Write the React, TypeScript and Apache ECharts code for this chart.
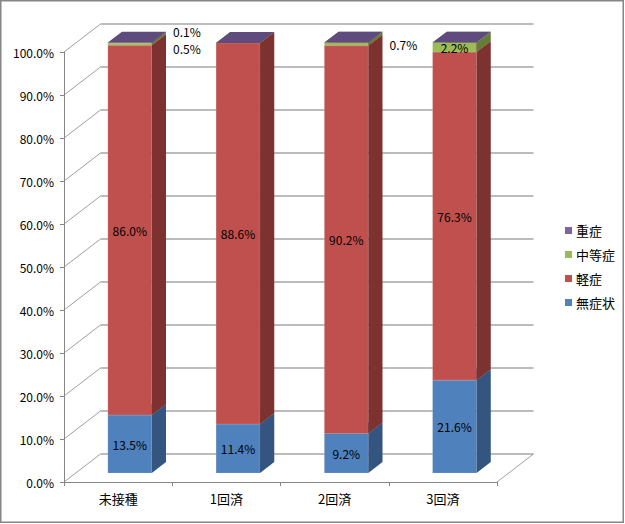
import React, { useEffect, useRef } from "react";
import * as echarts from "echarts";

const categories = ["未接種", "1回済", "2回済", "3回済"];
const seriesNames = ["無症状", "軽症", "中等症", "重症"];
const asymptomatic = [13.5, 11.4, 9.2, 21.6];
const mild = [86.0, 88.6, 90.2, 76.3];
const moderate = [0.5, 0.0, 0.7, 2.2];
const severe = [0.1, 0.0, 0.0, 0.0];
const tickValues = [0, 10, 20, 30, 40, 50, 60, 70, 80, 90, 100];

const seriesValues = [asymptomatic, mild, moderate, severe];
const frontColors = ["#4F81BD", "#C0504D", "#9BBB59", "#8064A2"];
const sideColors = ["#34557F", "#7E3230", "#667D3A", "#56436E"];
const topColors = ["#44709F", "#A64541", "#88A54D", "#604B7E"];

const FONT = '"Noto Sans CJK JP", "Noto Sans", sans-serif';
const GRID = { left: 64, top: 52, width: 433, height: 430 };
const DX = 36.5;
const DY = -28;
const F1 = 0.32;
const F2 = 0.71;
const BAR_RATIO = 0.406;

export default function App() {
  const ref = useRef<HTMLDivElement>(null);

  useEffect(() => {
    if (!ref.current) return;
    const chart = echarts.init(ref.current, undefined, { renderer: "svg" });

    const makeSeries = (si: number) => {
      const data = categories.map((_, ci) => {
        let start = 0;
        for (let k = 0; k < si; k++) start += seriesValues[k][ci];
        const v = seriesValues[si][ci];
        return [ci, start, start + v, v];
      });
      return {
        type: "custom",
        name: seriesNames[si],
        xAxisIndex: 0,
        yAxisIndex: 0,
        itemStyle: { color: frontColors[si] },
        encode: { x: 0, y: [1, 2] },
        clip: false,
        silent: true,
        data,
        renderItem: (params: any, api: any) => {
          const ci = api.value(0);
          const s = api.value(1);
          const e = api.value(2);
          const v = api.value(3);
          const pS = api.coord([ci, s]);
          const pE = api.coord([ci, e]);
          const bw = api.size([1, 0])[0] * BAR_RATIO;
          const x0 = pS[0] - bw / 2 + DX * F1;
          const yb = pS[1] + DY * F1;
          const yt = pE[1] + DY * F1;
          const ddx = DX * (F2 - F1);
          const ddy = DY * (F2 - F1);
          const children: any[] = [];
          if (yb - yt > 0.05) {
            children.push({
              type: "rect",
              shape: { x: x0, y: yt, width: bw, height: yb - yt },
              style: { fill: frontColors[si], stroke: "rgba(255,255,255,0.25)", lineWidth: 0.6 },
            });
            children.push({
              type: "polygon",
              shape: {
                points: [
                  [x0 + bw, yb],
                  [x0 + bw, yt],
                  [x0 + bw + ddx, yt + ddy],
                  [x0 + bw + ddx, yb + ddy],
                ],
              },
              style: { fill: sideColors[si] },
            });
          }
          children.push({
            type: "polygon",
            shape: {
              points: [
                [x0, yt],
                [x0 + bw, yt],
                [x0 + bw + ddx, yt + ddy],
                [x0 + ddx, yt + ddy],
              ],
            },
            style: { fill: topColors[si] },
          });
          if (v > 0) {
            const label = v.toFixed(1) + "%";
            const cy = (yb + yt) / 2;
            if (v >= 1) {
              children.push({
                type: "text",
                z2: 100,
                style: {
                  text: label,
                  x: x0 + bw / 2,
                  y: cy,
                  align: "center",
                  verticalAlign: "middle",
                  fill: "#000",
                  font: `12px ${FONT}`,
                },
              });
            } else {
              // small values: label placed to the right of the bar
              let off = 0;
              const aboveSmall =
                si + 1 < seriesValues.length &&
                seriesValues[si + 1][ci] > 0 &&
                seriesValues[si + 1][ci] < 1;
              const belowSmall =
                si - 1 >= 0 && seriesValues[si - 1][ci] > 0 && seriesValues[si - 1][ci] < 1;
              if (aboveSmall) off = 4;
              if (belowSmall) off = -11;
              children.push({
                type: "text",
                z2: 100,
                style: {
                  text: label,
                  x: x0 + bw + ddx + 7,
                  y: cy + off,
                  align: "left",
                  verticalAlign: "middle",
                  fill: "#000",
                  font: `12px ${FONT}`,
                },
              });
            }
          }
          return { type: "group", children };
        },
      };
    };

    const wallSeries = {
      type: "custom",
      name: "wall",
      xAxisIndex: 0,
      yAxisIndex: 0,
      encode: { x: 0, y: 1 },
      clip: false,
      silent: true,
      data: tickValues.map((t) => [0, t]),
      renderItem: (params: any, api: any) => {
        const t = api.value(1);
        const p = api.coord([0, t]);
        const half = api.size([1, 0])[0] / 2;
        const xl = p[0] - half;
        const children: any[] = [
          {
            type: "line",
            shape: { x1: xl, y1: p[1], x2: xl + DX, y2: p[1] + DY },
            style: { stroke: "#A0A0A0", lineWidth: 1 },
          },
        ];
        if (t === 0) {
          const pr = api.coord([categories.length - 1, 0]);
          const xr = pr[0] + half;
          children.push({
            type: "line",
            shape: { x1: xr, y1: pr[1], x2: xr + DX, y2: pr[1] + DY },
            style: { stroke: "#A0A0A0", lineWidth: 1 },
          });
        }
        return { type: "group", children };
      },
    };

    const option: any = {
      animation: false,
      color: frontColors,
      textStyle: { fontFamily: FONT },
      grid: [
        { left: GRID.left, top: GRID.top, width: GRID.width, height: GRID.height },
        { left: GRID.left + DX, top: GRID.top + DY, width: GRID.width, height: GRID.height },
      ],
      xAxis: [
        {
          type: "category",
          gridIndex: 0,
          data: categories,
          boundaryGap: true,
          axisLine: { show: true, lineStyle: { color: "#868686", width: 1 } },
          axisTick: { show: true, length: 4, lineStyle: { color: "#868686" } },
          axisLabel: { color: "#000", fontSize: 13, margin: 10, fontFamily: FONT },
          splitLine: { show: false },
          z: 5,
        },
        {
          type: "category",
          gridIndex: 1,
          data: categories,
          show: false,
        },
      ],
      yAxis: [
        {
          type: "value",
          gridIndex: 0,
          min: 0,
          max: 100,
          interval: 10,
          axisLine: { show: true, lineStyle: { color: "#868686", width: 1 } },
          axisTick: { show: true, length: 4, lineStyle: { color: "#868686" } },
          axisLabel: {
            color: "#000",
            fontSize: 12,
            margin: 10,
            fontFamily: FONT,
            formatter: (v: number) => v.toFixed(1) + "%",
          },
          splitLine: { show: false },
          z: 5,
        },
        {
          type: "value",
          gridIndex: 1,
          min: 0,
          max: 100,
          interval: 10,
          axisLine: { show: false },
          axisTick: { show: false },
          axisLabel: { show: false },
          splitLine: { show: true, lineStyle: { color: "#A6A6A6", width: 1.5 } },
        },
      ],
      legend: {
        orient: "vertical",
        left: 560,
        top: 219,
        itemWidth: 7,
        itemHeight: 7,
        itemGap: 11,
        icon: "rect",
        data: ["重症", "中等症", "軽症", "無症状"],
        textStyle: { color: "#000", fontSize: 13, fontFamily: FONT, padding: [0, 0, 0, -1] },
        selectedMode: false,
      },
      graphic: [
        {
          type: "rect",
          silent: true,
          shape: { x: 0.75, y: 0.75, width: 622.5, height: 521.5 },
          style: { fill: "none", stroke: "#868686", lineWidth: 1.5 },
        },
      ],
      series: [wallSeries, makeSeries(0), makeSeries(1), makeSeries(2), makeSeries(3)],
    };

    chart.setOption(option);
    return () => chart.dispose();
  }, []);

  return (
    <div
      ref={ref}
      style={{ position: "fixed", left: 0, top: 0, width: 625, height: 524, background: "#fff" }}
    />
  );
}
